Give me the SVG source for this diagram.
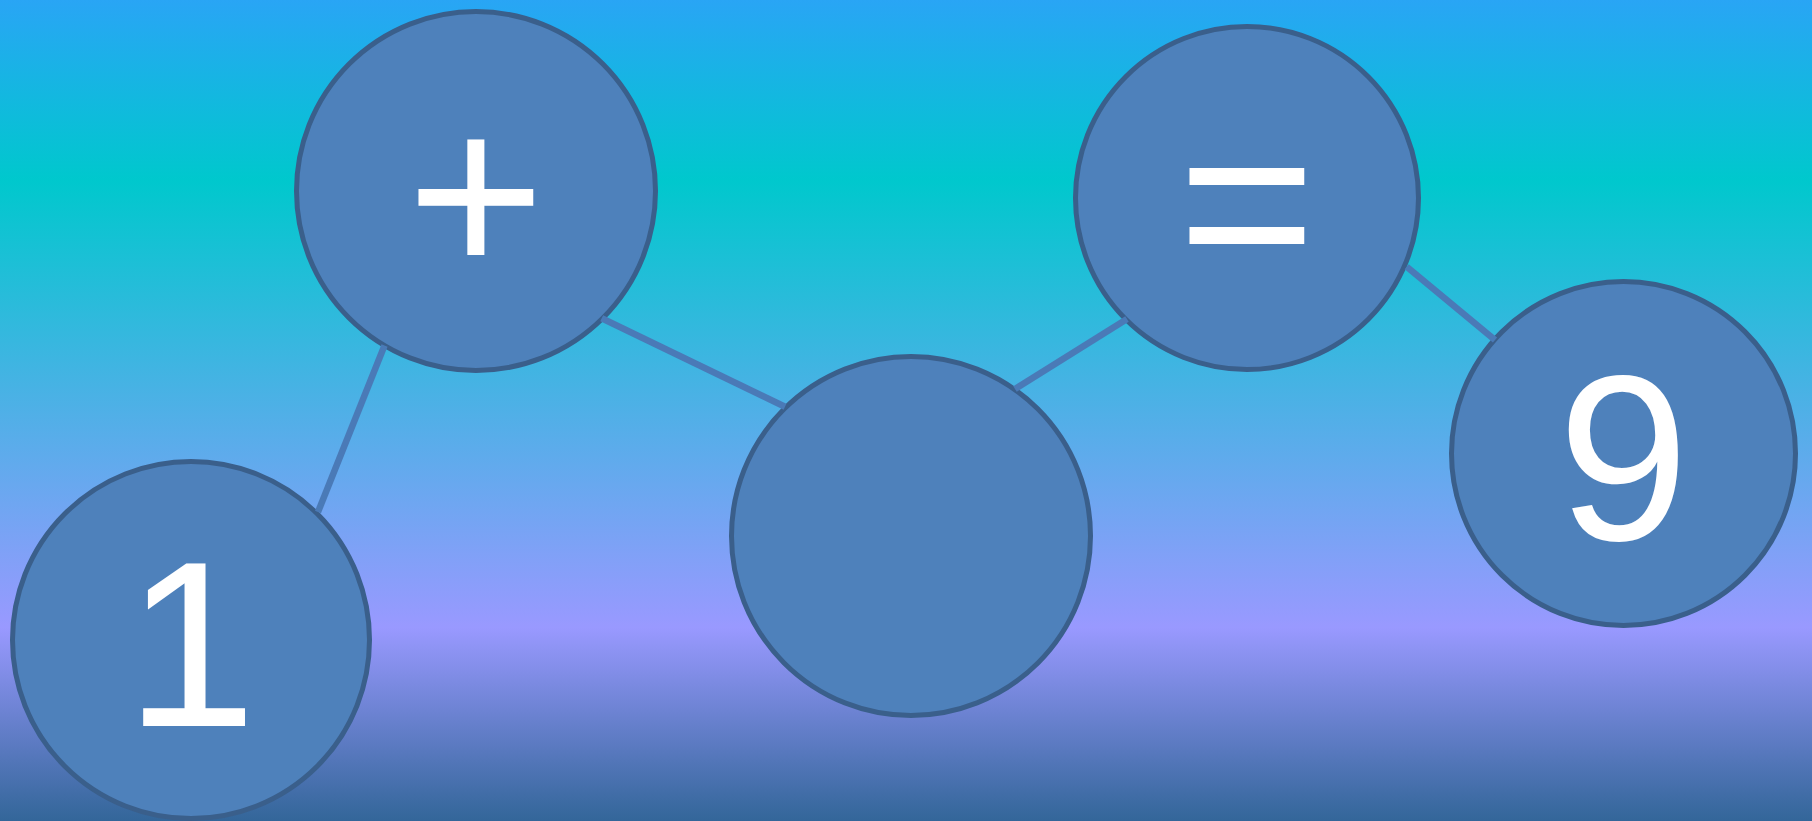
<svg xmlns="http://www.w3.org/2000/svg" width="1812" height="821" viewBox="0 0 1812 821">
  <defs>
    <linearGradient id="bg" x1="0" y1="0" x2="0" y2="1">
      <stop offset="0" stop-color="#29a5f5"/>
      <stop offset="0.219" stop-color="#00c8cd"/>
      <stop offset="0.764" stop-color="#9999ff"/>
      <stop offset="1" stop-color="#336699"/>
    </linearGradient>
    <style>
      .node circle { fill: #4e81bb; stroke: #3a5f8b; stroke-width: 5; }
      .node text { fill: #ffffff; font-family: "Liberation Sans", Arimo, Roboto, "Noto Sans", sans-serif; font-size: 236px; font-weight: normal; text-anchor: middle; }
      .links line { stroke: #4a7ab7; stroke-width: 6.5; stroke-linecap: butt; }
    </style>
  </defs>
  <rect x="0" y="0" width="1812" height="821" fill="url(#bg)"/>
  <g id="node-1" class="node">
    <circle cx="191" cy="640" r="178.5"/>
    <text x="191" y="726">1</text>
  </g>
  <g id="node-plus" class="node">
    <circle cx="476" cy="191" r="179.5"/>
    <text x="476" y="276">+</text>
  </g>
  <g id="node-blank" class="node">
    <circle cx="911" cy="536" r="179.5"/>
  </g>
  <g id="node-equals" class="node">
    <circle cx="1247" cy="198" r="171.5"/>
    <text x="1247" y="284">=</text>
  </g>
  <g id="node-9" class="node">
    <circle cx="1623.5" cy="453.5" r="172"/>
    <text x="1623.5" y="540">9</text>
  </g>
  <g id="connectors" class="links">
    <line x1="318" y1="512" x2="384.5" y2="345.5"/>
    <line x1="601.7" y1="318.3" x2="785" y2="406.7"/>
    <line x1="1015" y1="389" x2="1127" y2="319"/>
    <line x1="1406.7" y1="266.7" x2="1495" y2="340"/>
  </g>
</svg>
